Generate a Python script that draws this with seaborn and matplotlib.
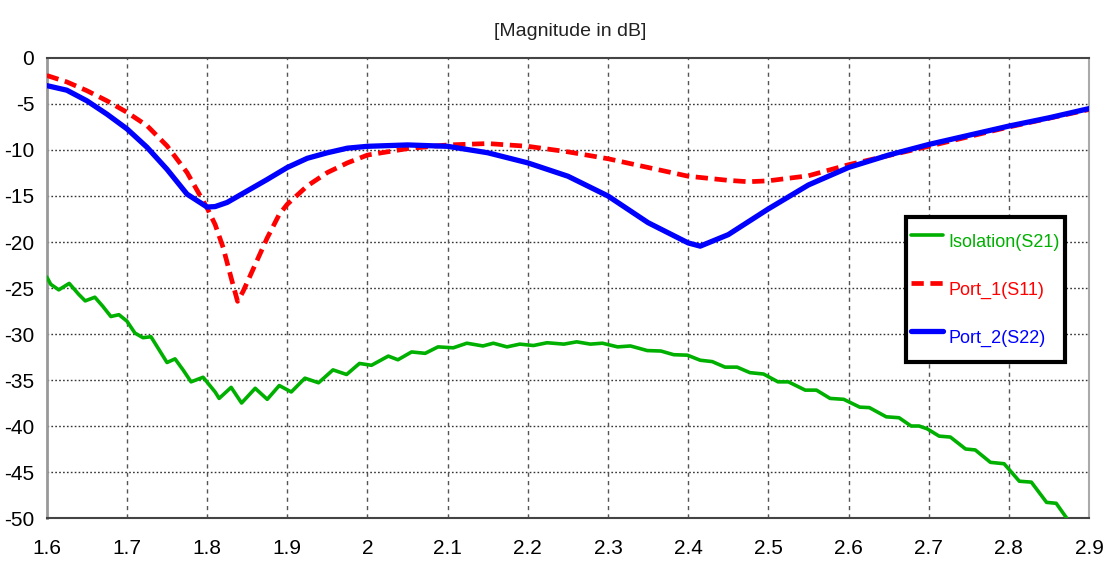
import matplotlib
matplotlib.use("Agg")
import matplotlib.pyplot as plt
import seaborn as sns
import pandas as pd

# ---- data ----
s21_freq = [1.600, 1.605, 1.615, 1.628, 1.640, 1.648, 1.660, 1.670, 1.680, 1.690,
            1.700, 1.710, 1.720, 1.730, 1.740, 1.750, 1.760, 1.770, 1.780, 1.795,
            1.810, 1.815, 1.830, 1.843, 1.860, 1.875, 1.890, 1.905, 1.922, 1.939,
            1.957, 1.974, 1.990, 2.005, 2.026, 2.038, 2.055, 2.072, 2.088, 2.107,
            2.124, 2.144, 2.157, 2.174, 2.190, 2.207, 2.224, 2.245, 2.261, 2.278,
            2.293, 2.312, 2.328, 2.349, 2.366, 2.382, 2.399, 2.415, 2.430, 2.446,
            2.461, 2.477, 2.494, 2.512, 2.525, 2.546, 2.560, 2.577, 2.594, 2.614,
            2.626, 2.647, 2.663, 2.678, 2.688, 2.698, 2.713, 2.727, 2.746, 2.758,
            2.777, 2.794, 2.805, 2.813, 2.828, 2.847, 2.859, 2.872]
s21_db = [-23.8, -24.6, -25.2, -24.5, -25.7, -26.4, -26.0, -27.0, -28.1, -27.9,
          -28.6, -29.9, -30.4, -30.3, -31.7, -33.1, -32.7, -33.9, -35.2, -34.7,
          -36.3, -37.0, -35.8, -37.5, -35.9, -37.1, -35.6, -36.3, -34.8, -35.3,
          -33.9, -34.4, -33.2, -33.4, -32.4, -32.8, -31.95, -32.1, -31.4, -31.5,
          -31.0, -31.3, -31.0, -31.4, -31.1, -31.25, -30.95, -31.1, -30.85, -31.1,
          -31.0, -31.4, -31.3, -31.8, -31.85, -32.25, -32.3, -32.85, -33.0, -33.6,
          -33.6, -34.2, -34.35, -35.2, -35.2, -36.1, -36.1, -37.0, -37.1, -37.95,
          -38.0, -39.0, -39.1, -40.0, -40.0, -40.3, -41.1, -41.2, -42.5, -42.6,
          -43.95, -44.1, -45.2, -46.0, -46.1, -48.3, -48.4, -50.0]

s11_freq = [1.600, 1.625, 1.650, 1.675, 1.700, 1.725, 1.750, 1.775, 1.800, 1.810,
            1.820, 1.830, 1.838, 1.845, 1.860, 1.875, 1.890, 1.900, 1.925, 1.950,
            1.975, 2.000, 2.050, 2.100, 2.150, 2.200, 2.250, 2.300, 2.350, 2.400,
            2.450, 2.475, 2.500, 2.550, 2.600, 2.650, 2.700, 2.750, 2.800, 2.850,
            2.900]
s11_db = [-1.9, -2.6, -3.55, -4.65, -5.9, -7.35, -9.55, -12.45, -16.3, -18.1,
          -20.6, -23.9, -26.45, -25.35, -22.45, -19.55, -17.0, -15.9, -13.9, -12.45,
          -11.4, -10.55, -9.85, -9.45, -9.3, -9.6, -10.2, -10.95, -11.9, -12.85,
          -13.3, -13.45, -13.35, -12.8, -11.6, -10.6, -9.6, -8.55, -7.5, -6.55,
          -5.6]

s22_freq = [1.600, 1.625, 1.650, 1.675, 1.700, 1.725, 1.750, 1.775, 1.800, 1.810,
            1.825, 1.850, 1.875, 1.900, 1.925, 1.950, 1.975, 2.000, 2.050, 2.100,
            2.150, 2.200, 2.250, 2.300, 2.350, 2.400, 2.415, 2.450, 2.500, 2.550,
            2.600, 2.650, 2.700, 2.750, 2.800, 2.850, 2.900]
s22_db = [-3.0, -3.5, -4.65, -6.1, -7.7, -9.7, -12.1, -14.8, -16.2, -16.15,
          -15.7, -14.45, -13.2, -11.9, -10.9, -10.3, -9.8, -9.6, -9.45, -9.6,
          -10.3, -11.4, -12.85, -15.0, -17.9, -20.1, -20.45, -19.2, -16.4, -13.8,
          -11.9, -10.55, -9.4, -8.4, -7.4, -6.5, -5.5]

series_names = ["Isolation(S21)", "Port_1(S11)", "Port_2(S22)"]
series_colors = ["#00b000", "#ff0000", "#0000ff"]

x_ticks = [1.6, 1.7, 1.8, 1.9, 2.0, 2.1, 2.2, 2.3, 2.4, 2.5, 2.6, 2.7, 2.8, 2.9]
x_tick_labels = ["1.6", "1.7", "1.8", "1.9", "2", "2.1", "2.2", "2.3", "2.4",
                 "2.5", "2.6", "2.7", "2.8", "2.9"]
y_ticks = [0, -5, -10, -15, -20, -25, -30, -35, -40, -45, -50]
y_tick_labels = ["0", "-5", "-10", "-15", "-20", "-25", "-30", "-35", "-40",
                 "-45", "-50"]
title_text = "[Magnitude in dB]"

# ---- build table ----
frames = []
for name, fx, fy in zip(series_names, [s21_freq, s11_freq, s22_freq],
                        [s21_db, s11_db, s22_db]):
    frames.append(pd.DataFrame({"freq": fx, "dB": fy, "trace": name}))
df = pd.concat(frames, ignore_index=True)

sns.set_theme(style="white")
FONT = ["Liberation Sans", "DejaVu Sans"]
plt.rcParams["font.family"] = FONT

fig = plt.figure(figsize=(11.13, 5.68), dpi=100)
ax = fig.add_axes([0.042, 0.088, 0.9365, 0.8099])

styles = {
    "Isolation(S21)": dict(lw=2.6, ls="-"),
    "Port_1(S11)": dict(lw=3.4, ls=(0, (2.6, 1.4))),
    "Port_2(S22)": dict(lw=3.8, ls="-"),
}
for name, col in zip(series_names, series_colors):
    sub = df[df["trace"] == name]
    sns.lineplot(data=sub, x="freq", y="dB", ax=ax, color=col,
                 linewidth=styles[name]["lw"], linestyle=styles[name]["ls"],
                 estimator=None, sort=False, label=name, zorder=3)

ax.set_xlim(1.6, 2.9)
ax.set_ylim(-50, 0)
ax.set_xticks(x_ticks)
ax.set_xticklabels(x_tick_labels)
ax.set_yticks(y_ticks)
ax.set_yticklabels(y_tick_labels)
ax.set_xlabel("")
ax.set_ylabel("")

ax.tick_params(axis="both", labelsize=15, colors="#222222", labelcolor="black")
ax.tick_params(axis="x", direction="out", length=6, width=1, pad=9)
ax.tick_params(axis="y", direction="out", length=5, width=1, pad=4)

# grid: dotted horizontal, dashed vertical
ax.grid(False)
for yv in y_ticks[1:-1]:
    ax.axhline(yv, color="#333333", lw=1.0, ls=(0, (1.2, 1.6)), zorder=1)
for xv in x_ticks[1:-1]:
    ax.axvline(xv, color="#555555", lw=1.0, ls=(0, (3, 3)), zorder=1)

for side in ["top", "bottom"]:
    ax.spines[side].set_color("#444444")
    ax.spines[side].set_linewidth(1.5)
ax.spines["left"].set_color("#999999")
ax.spines["left"].set_linewidth(2.0)
ax.spines["right"].set_color("#aaaaaa")
ax.spines["right"].set_linewidth(1.5)

fig.text(0.512, 0.945, title_text, ha="center", va="center", fontsize=14,
         color="#222222", family=FONT)

leg = ax.legend(loc="upper left", bbox_to_anchor=(0.824, 0.654),
                frameon=True, fancybox=False, edgecolor="black",
                framealpha=1.0, fontsize=13, handlelength=1.75,
                handleheight=2.8, handletextpad=0.3, borderpad=0.3,
                labelspacing=0.6, borderaxespad=0)
leg.get_frame().set_linewidth(3)
for txt, col in zip(leg.get_texts(), series_colors):
    txt.set_color(col)

fig.savefig("out.png", dpi=100)
